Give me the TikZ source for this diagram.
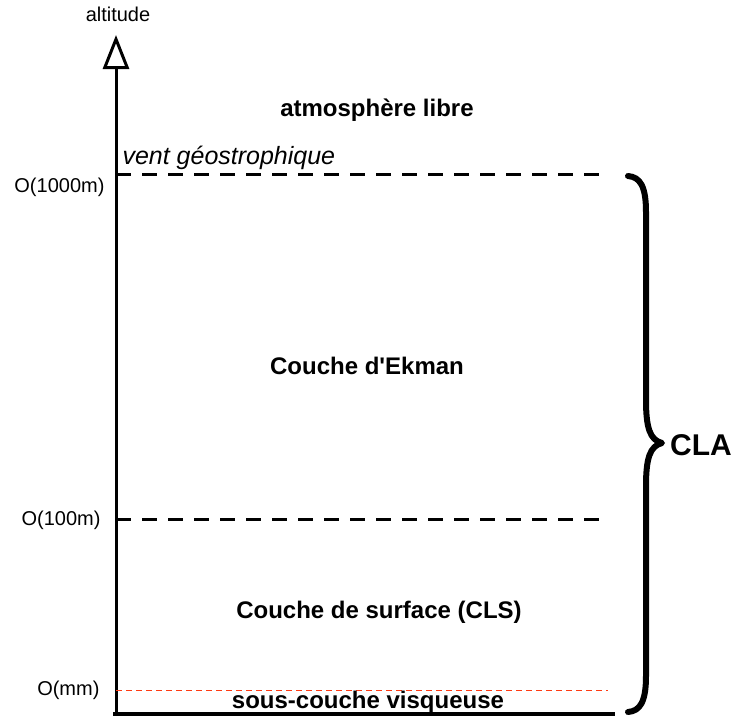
\documentclass[tikz,border=0pt]{standalone}
\usepackage{fontspec}
\setmainfont{Liberation Sans}
\usetikzlibrary{arrows.meta}
\definecolor{visqred}{RGB}{255,60,20}

\begin{document}
\begin{tikzpicture}[x=1pt,y=-1pt,
  lbl/.style={font=\fontsize{20}{24}\selectfont},
  layer/.style={font=\fontsize{24}{28}\selectfont\bfseries},
  level/.style={line width=3pt,dash pattern=on 15pt off 11pt}]
\useasboundingbox (0,0) rectangle (747,716);
% axe vertical et sol
\coordinate (o) at (116,714);
\coordinate (top) at (116,35);
\coordinate (sol) at (615,714);
\draw[line width=3pt,-{Triangle[open,length=34pt,width=26pt]}] (o) -- (top);
\draw[line width=4pt] (113,714) -- (sol);
\node[lbl] (alt) at (118,14) {altitude};
% niveaux
\coordinate (k1) at (116,174);
\coordinate (k1e) at (607,174);
\coordinate (k2) at (116,519);
\coordinate (k2e) at (606,519);
\coordinate (k3) at (116,690);
\coordinate (k3e) at (608,690);
\draw[level] (k1) -- (k1e);
\draw[level] (k2) -- (k2e);
\draw[visqred,line width=1pt,dash pattern=on 6pt off 4pt] (k3) -- (k3e);
\node[lbl,anchor=east] (l1) at (108,187) {O(1000m)};
\node[lbl,anchor=east] (l2) at (104,520) {O(100m)};
\node[lbl,anchor=east] (l3) at (103,690) {O(mm)};
\node[lbl,font=\fontsize{25}{29}\selectfont\itshape,anchor=west] (vg) at (119,158) {vent géostrophique};
% couches
\node[layer] (atm) at (377,110) {atmosphère libre};
\node[layer] (ek) at (367,366) {Couche d\textquotesingle Ekman};
\node[layer] (cls) at (379,612) {Couche de surface (CLS)};
\node[layer] (sc) at (368,702) {sous-couche visqueuse};
% accolade
\draw[line width=6pt,line cap=round,line join=round] (628,176) .. controls (640,177) and (646,186) .. (646,212) -- (646,400)
  .. controls (646,428) and (650,440) .. (662,443) .. controls (650,446) and (646,458) .. (646,486)
  -- (646,676) .. controls (646,702) and (640,711) .. (628,712);
\node[font=\fontsize{30}{34}\selectfont\bfseries] (cla) at (701,445) {CLA};
\end{tikzpicture}
\end{document}
